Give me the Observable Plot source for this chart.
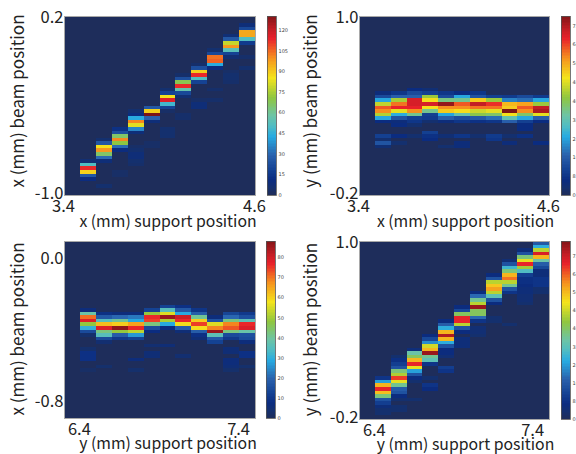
<!DOCTYPE html>
<html><head><meta charset="utf-8">
<script src="https://cdn.jsdelivr.net/npm/d3@7"></script>
<script src="https://cdn.jsdelivr.net/npm/@observablehq/plot@0.6"></script>
<style>
html,body{margin:0;padding:0;background:#fff;width:576px;height:454px;overflow:hidden}
#c{position:relative;width:576px;height:454px;overflow:hidden}
#c svg{position:absolute;overflow:visible;background:transparent}
#c svg g[aria-label="rect"]{filter:blur(0.45px)}
</style></head><body><div id="c"></div>
<script>
// Each column: first row index (bottom = 0), then counts going up
const xxColumns = [
 [4,10,25,88,112,50,6],
 [2,5,0,0,0,0,0,0,8,30,65,98,85,25,5],
 [5,3,3,0,0,0,0,0,10,30,70,100,65,22,12],
 [8,4,5,8,8,5,3,0,0,0,8,35,82,100,42,10,5],
 [13,3,3,0,0,0,0,0,8,28,130,88,25],
 [16,5,5,5,0,0,0,0,3,18,47,115,85,18,5],
 [21,4,4,0,0,0,0,6,20,55,112,68,22,4],
 [24,8,8,3,0,0,0,0,18,50,112,88,22,4],
 [26,4,0,0,4,0,0,0,0,0,10,42,105,103,20,5],
 [31,4,5,5,3,0,0,0,6,18,52,98,78,25,7],
 [35,5,0,0,4,0,0,0,15,50,95,95,20,8]
];
const xyColumns = [
 [13,4,14,3,10,0,0,0,6,24,44,58,62,45,24,12,5],
 [14,3,0,6,0,0,6,5,14,25,48,66,60,43,16,8],
 [16,3,0,0,3,8,10,35,58,66,68,68,16,12,6],
 [15,6,7,10,0,0,3,9,10,35,50,68,50,42,10,4],
 [13,3,0,0,4,0,0,0,5,16,24,52,58,74,36,12,8],
 [13,5,5,0,8,0,0,0,8,13,32,50,58,62,35,24,6],
 [16,3,0,0,0,7,15,40,46,60,70,52,14,8],
 [15,8,9,0,0,0,8,18,38,48,60,65,42,10],
 [14,5,0,3,0,0,0,16,32,50,76,52,54,20,9],
 [16,7,0,6,6,10,24,38,58,62,56,18,12],
 [14,6,0,0,0,0,0,6,16,48,72,70,42,24,9]
];
const yxColumns = [
 [13,2,0,0,8,8,8,3,0,0,0,3,14,30,48,78,70,38,6],
 [14,3,0,0,0,0,0,0,4,14,35,42,78,62,35,17,8],
 [22,10,18,48,86,60,40,20,6],
 [13,3,0,0,6,0,0,0,0,0,12,26,52,76,65,28,22,6],
 [17,5,5,0,4,0,0,0,7,14,42,74,76,48,12],
 [20,5,0,0,0,0,7,28,50,85,55,35,12],
 [17,4,0,0,0,0,0,0,5,18,58,76,80,28,17,8],
 [22,5,8,18,58,74,60,40,18,9],
 [21,12,17,36,85,68,55,16,6],
 [13,3,5,6,6,0,5,5,0,0,10,14,42,72,68,42,20,13],
 [14,3,0,0,8,8,0,0,6,14,15,38,78,76,36,15,10]
];
const yyColumns = [
 [1,3,3,5,10,14,38,55,68,56,24,8],
 [2,3,3,0,3,6,14,16,36,50,66,45,38,14,10,7,3],
 [5,3,0,0,0,0,3,6,14,24,50,68,56,40,34,5],
 [8,6,8,0,3,0,0,0,8,32,36,76,56,48,22,12,6],
 [13,8,10,0,0,4,6,6,14,26,56,74,56,26,16,6],
 [20,5,5,5,0,6,14,46,68,68,40,12,6],
 [23,3,4,4,0,8,18,40,40,76,46,36,18,6],
 [27,3,3,0,0,0,6,14,32,46,58,54,46,14,6],
 [26,3,0,0,0,0,0,0,0,0,8,14,36,46,62,56,38,28,14,4],
 [32,3,4,4,5,5,6,7,7,10,30,44,68,50,38,14,5],
 [35,3,3,8,8,8,5,5,12,16,34,56,70,46,26,15]
];
const xxTicks = [0,15,30,45,60,75,90,105,120];
const xyTicks = [0,8,16,24,32,40,48,56,64,72];
const yxTicks = [0,10,20,30,40,50,60,70,80];
const yyTicks = [0,8,16,24,32,40,48,56,64,72];
const xxMax = 130, xyMax = 76, yxMax = 88, yyMax = 78.5;

const colorStops = [0,0.04,0.08,0.14,0.22,0.32,0.38,0.44,0.54,0.65,0.76,0.87,0.92,1];
const colorRamp = ["#1e2d5b","#14306f","#0b2c80","#154394","#2a62ad","#27aae1","#4fbcc4","#6dc4a4","#8fc640","#f4e41c","#f6921e","#e8202a","#c41e25","#7c1416"];

const rowCount = 50, binWidth = 0.1;
const font = "'Noto Sans CJK JP','Noto Sans',sans-serif";
const bg = "#1e2d5b";

function cells(cols, x0, y0, y1) {
  const rowH = (y1 - y0) / rowCount, out = [];
  cols.forEach((col, c) => col.slice(1).forEach((v, i) => {
    if (v > 0) {
      const r = col[0] + i;
      out.push({x1: x0 + binWidth * (c + 1), x2: x0 + binWidth * (c + 2),
                y1: y0 + r * rowH, y2: y0 + (r + 1) * rowH, v});
    }
  }));
  return out;
}

function panel(o) {
  const W = o.fr - o.fl + 130, H = o.fb - o.ft + 70;
  const colorOpt = {type: "linear", domain: colorStops.map(s => s * o.max), range: colorRamp, interpolate: "rgb", clamp: true};
  const [lo, hi] = o.yt;
  const svg = Plot.plot({
    width: W, height: H,
    marginLeft: 70, marginRight: 60, marginTop: 20, marginBottom: 50,
    style: {background: "transparent", fontFamily: font},
    x: {domain: o.xd, axis: null},
    y: {domain: o.yd, axis: null},
    color: colorOpt,
    marks: [
      Plot.frame({fill: bg}),
      Plot.rect(cells(o.cols, o.xd[0], o.yd[0], o.yd[1]), {x1: "x1", x2: "x2", y1: "y1", y2: "y2", fill: "v", shapeRendering: "crispEdges"}),
      Plot.frame({stroke: "#a8a8a8", strokeWidth: 1}),
      Plot.text(o.xt, {x: d => d, text: d => d.toFixed(1), frameAnchor: "bottom", dy: o.xtDy, fontSize: 16.5, fill: "#222", dx: -1}),
      Plot.text([lo], {y: d => d, text: d => d.toFixed(1), frameAnchor: "left", textAnchor: "end", dx: -1, dy: o.loDy, fontSize: 16.5, fill: "#222"}),
      Plot.text([hi], {y: d => d, text: d => d.toFixed(1), frameAnchor: "left", textAnchor: "end", dx: -1, dy: o.hiDy, fontSize: 16.5, fill: "#222"}),
      Plot.text([o.xl], {frameAnchor: "bottom", text: d => d, fontSize: 15.8, fill: "#222", dy: o.xlDy, dx: o.xlDx}),
      Plot.text([o.yl], {frameAnchor: "left", textAnchor: "middle", text: d => d, rotate: -90, fontSize: 17, fill: "#222", dx: o.ylDx, dy: o.ylDy})
    ]
  });
  svg.style.left = (o.fl - 70) + "px";
  svg.style.top = (o.ft - 20) + "px";
  document.getElementById("c").appendChild(svg);

  const steps = d3.range(0, 120).map(i => ({a: i / 120 * o.max, b: (i + 1) / 120 * o.max}));
  const bar = Plot.plot({
    width: 40, height: o.fb - o.ft + 20,
    marginLeft: 5, marginRight: 26, marginTop: 10, marginBottom: 10,
    style: {background: "transparent", fontFamily: "'DejaVu Sans',sans-serif"},
    x: {axis: null, domain: [0, 1]},
    y: {domain: [0, o.max], axis: null},
    color: colorOpt,
    marks: [
      Plot.rect(steps, {x1: 0, x2: 1, y1: "a", y2: "b", fill: d => d.a, shapeRendering: "crispEdges"}),
      Plot.frame({stroke: "#555", strokeWidth: 0.8}),
      Plot.text(o.ticks, {y: d => d, text: d => d, frameAnchor: "right", textAnchor: "start", dx: 2, fontSize: 5, fill: "#444"})
    ]
  });
  bar.style.left = (o.cl - 5) + "px";
  bar.style.top = (o.ft - 10) + "px";
  document.getElementById("c").appendChild(bar);
}

panel({fl:64, fr:255, ft:16, fb:195, cl:267, cols:xxColumns, xd:[3.4,4.6], yd:[-1.0,0.2], xt:[3.4,4.6], yt:[-1.0,0.2], loDy:-2, hiDy:1, xtDy:16, xlDy:31,
  xl:"x (mm) support position", yl:"x (mm) beam position", max:xxMax, ticks:xxTicks, xlDx:8, ylDx:-46, ylDy:-5});
panel({fl:359, fr:549, ft:16, fb:195, cl:561, cols:xyColumns, xd:[3.4,4.6], yd:[-0.2,1.0], xt:[3.4,4.6], yt:[-0.2,1.0], loDy:-2, hiDy:1, xtDy:16, xlDy:31,
  xl:"x (mm) support position", yl:"y (mm) beam position", max:xyMax, ticks:xyTicks, xlDx:11, ylDx:-48, ylDy:-5});
panel({fl:64, fr:255, ft:241, fb:418, cl:266, cols:yxColumns, xd:[6.3,7.5], yd:[-0.9,0.1], xt:[6.4,7.4], yt:[-0.8,0.0], loDy:1, hiDy:0, xtDy:16, xlDy:30,
  xl:"y (mm) support position", yl:"x (mm) beam position", max:yxMax, ticks:yxTicks, xlDx:8, ylDx:-46, ylDy:-1});
panel({fl:359, fr:549, ft:241, fb:419, cl:561, cols:yyColumns, xd:[6.3,7.5], yd:[-0.2,1.0], xt:[6.4,7.4], yt:[-0.2,1.0], loDy:-2, hiDy:1, xtDy:16, xlDy:30,
  xl:"y (mm) support position", yl:"y (mm) beam position", max:yyMax, ticks:yyTicks, xlDx:11, ylDx:-48, ylDy:-1});
</script></body></html>
